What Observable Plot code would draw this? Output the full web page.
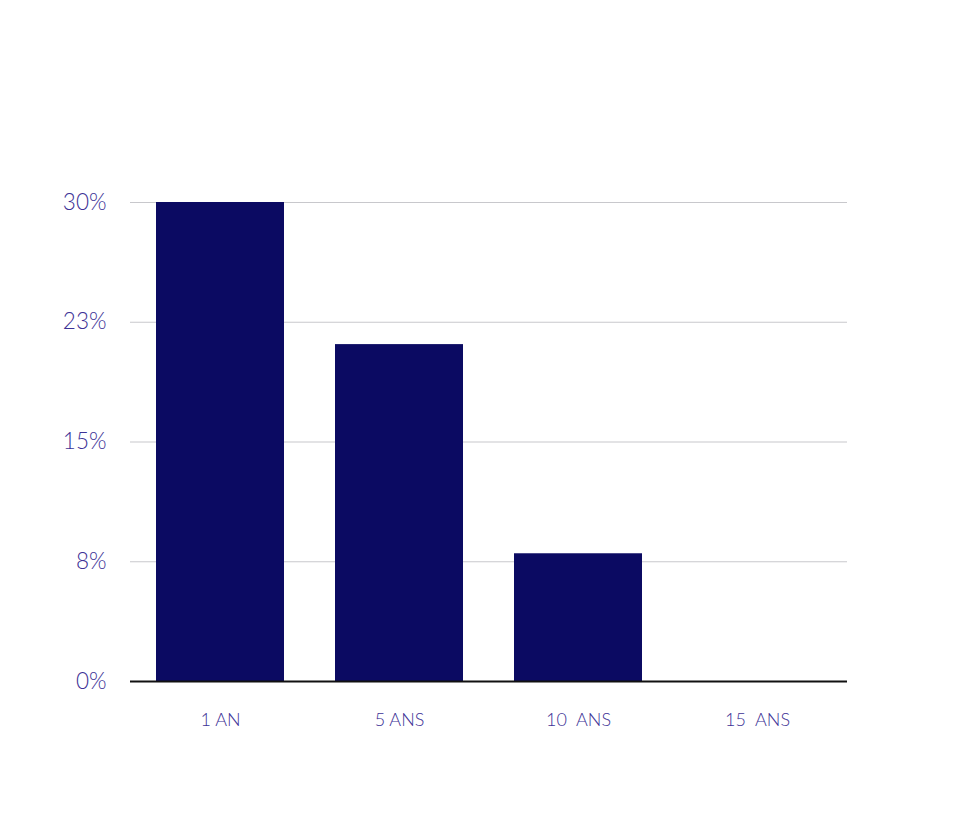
<!DOCTYPE html>
<html>
<head>
<meta charset="utf-8">
<script src="https://cdn.jsdelivr.net/npm/d3@7"></script>
<script src="https://cdn.jsdelivr.net/npm/@observablehq/plot@0.6"></script>
<style>
  body { margin: 0; background: #fff; }
  #chart svg { font-family: Lato, sans-serif; }
  #chart svg g[aria-label$="tick label"] text { font-weight: 300; }
</style>
</head>
<body>
<div id="chart"></div>
<script>
const categories = ["1 AN", "5 ANS", "10  ANS", "15  ANS"];
const values = [30, 21.1, 8, 0];
const tickValues = [0, 7.5, 15, 22.5, 30];
const tickLabels = ["0%", "8%", "15%", "23%", "30%"];

const data = categories.map((c, i) => ({category: c, value: values[i]}));

const chart = Plot.plot({
  width: 957,
  height: 831,
  marginLeft: 130,
  marginRight: 110,
  marginTop: 202,
  marginBottom: 150,
  style: {background: "#fff", overflow: "visible"},
  x: {domain: categories, paddingInner: 0.286, paddingOuter: 0.143, axis: null, label: null},
  y: {domain: [0, 30], axis: null, label: null},
  marks: [
    Plot.ruleY(tickValues.filter(v => v > 0), {stroke: "#c8c8cc", strokeWidth: 1.2}),
    Plot.barY(data, {x: "category", y: "value", fill: "#0b0a62"}),
    Plot.ruleY([0], {stroke: "#111", strokeWidth: 2}),
    Plot.axisY({
      ticks: tickValues, tickSize: 0, tickPadding: 24, fontSize: 22.5,
      color: "#3d3296", label: null,
      tickFormat: v => tickLabels[tickValues.indexOf(v)]
    }),
    Plot.axisX({
      tickSize: 0, tickPadding: 32, fontSize: 18, color: "#3d3296", label: null,
      tickFormat: d => d
    })
  ]
});
document.getElementById("chart").appendChild(chart);
</script>
</body>
</html>
